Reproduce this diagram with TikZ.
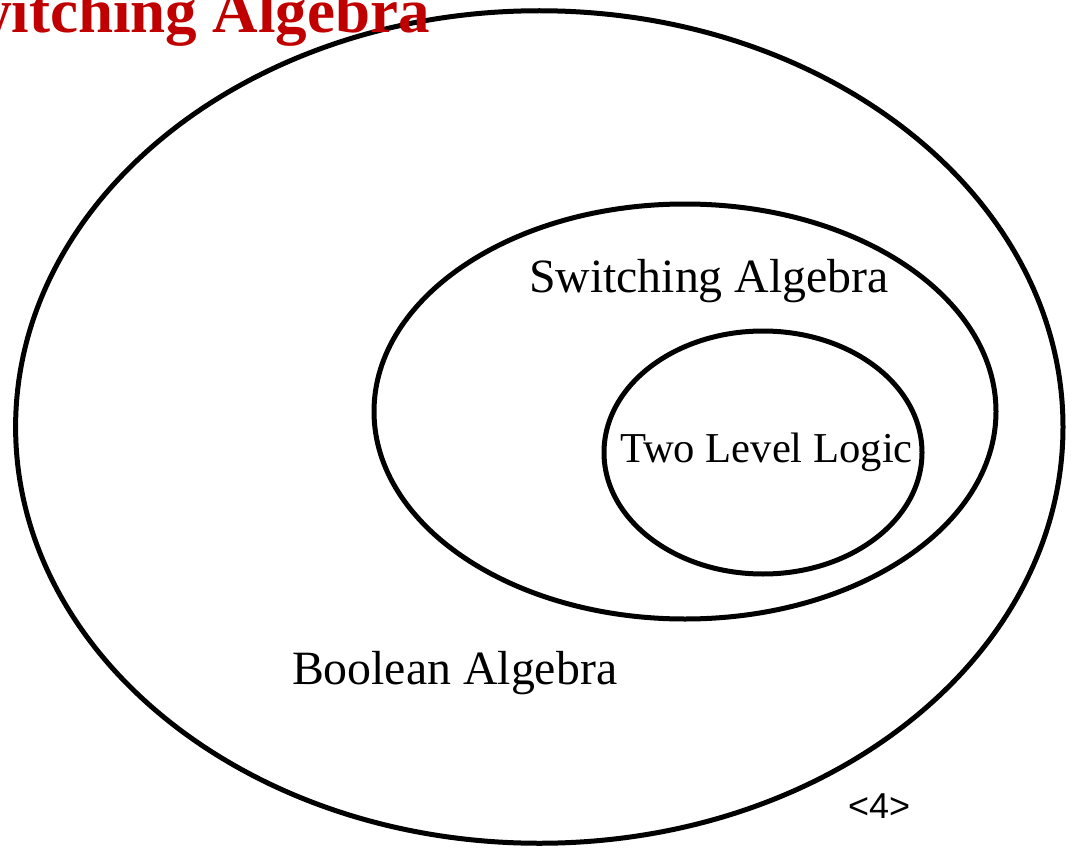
\documentclass[tikz,border=0pt]{standalone}
\usepackage{fontspec}
\setmainfont{Liberation Serif}
\newfontfamily\arialfont{Liberation Sans}
\usetikzlibrary{shapes.geometric}
\definecolor{titlered}{HTML}{C00000}
\tikzset{
  setring/.style={draw=black, line width=5pt, ellipse, inner sep=0pt, outer sep=0pt},
  setlabel/.style={inner sep=0pt, outer sep=0pt, font=\fontsize{47.8}{52}\selectfont},
}
\begin{document}
\begin{tikzpicture}[x=1pt,y=-1pt]
\useasboundingbox (0,0) rectangle (1074,848);
\node[setring, minimum width=1047.4pt, minimum height=832.5pt] (bool) at (539.3,427) {};
\node[setring, minimum width=622pt, minimum height=415pt] (sw) at (685,411.5) {};
\node[setring, minimum width=318pt, minimum height=243pt] (two) at (763,452.5) {};
\node[setlabel, anchor=base west] (swl) at (529,292) {Switching Algebra};
\node[setlabel, anchor=base west, font=\fontsize{42.6}{46}\selectfont] (twol) at (620,462) {Two Level Logic};
\node[setlabel, anchor=base west] (booll) at (292,684) {Boolean Algebra};
\node[inner sep=0pt, anchor=base west, font=\arialfont\fontsize{36}{40}\selectfont] (page) at (848,818) {<4>};
\node[inner sep=0pt, anchor=base east, text=titlered, font=\bfseries\fontsize{63}{68}\selectfont] (title) at (430,33) {Switching Algebra};
\end{tikzpicture}
\end{document}
